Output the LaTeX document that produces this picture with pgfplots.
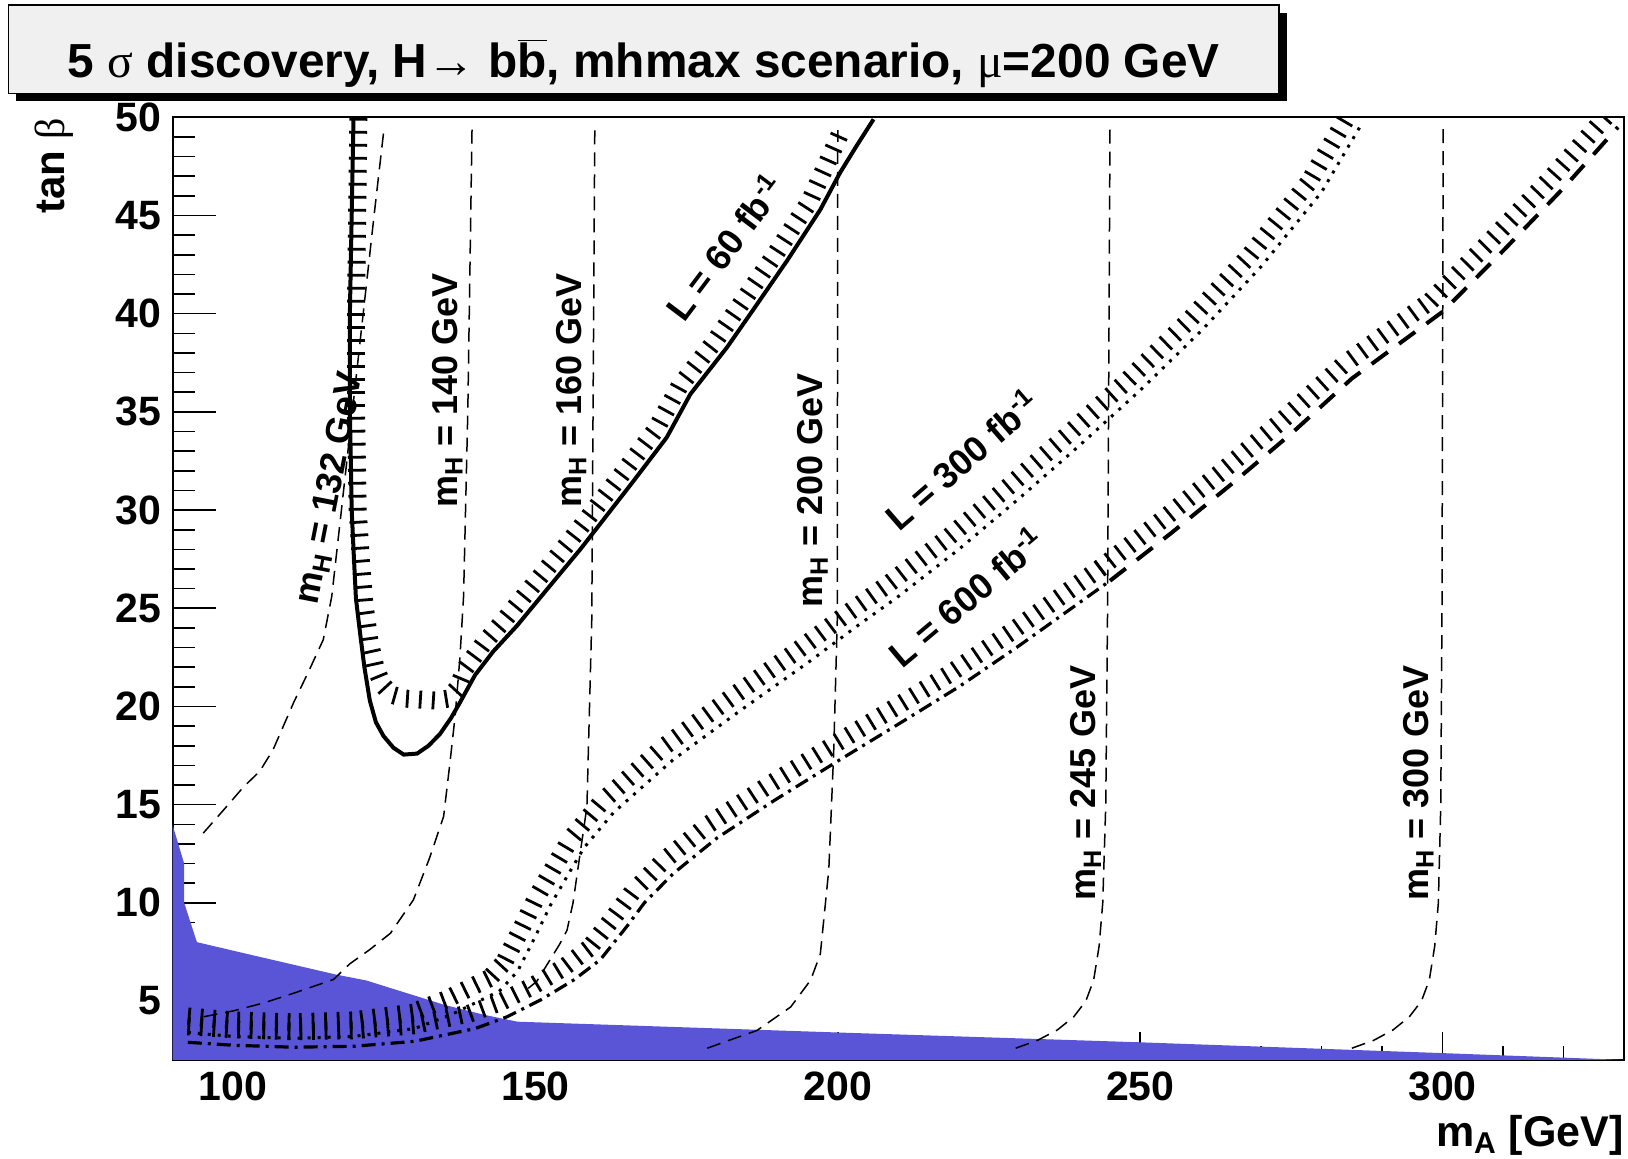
\documentclass[border=0pt]{standalone}
\usepackage{pgfplots}
\pgfplotsset{compat=1.18}
\usetikzlibrary{decorations.markings}
\usepackage{fontspec}
\setmainfont{Liberation Sans}
\newfontfamily\grk{Liberation Serif}
\definecolor{rootblue}{RGB}{90,85,215}
\definecolor{boxgray}{RGB}{240,240,240}
\tikzset{
  hatchC/.style={postaction={decorate, decoration={markings, mark=between positions 0 and 1 step 6.5pt with {\draw[black, solid, line width=1.4pt] (0pt,-4.5pt) -- (0pt,4.5pt);}}}},
  hatchL/.style 2 args={postaction={decorate, decoration={markings, mark=between positions 0 and 1 step 6.3pt with {\draw[black, solid, line width=1.4pt] (0pt,#1) -- (0pt,#2);}}}},
  isoline/.style={black, line width=0.75pt, dash pattern=on 7pt off 4pt},
}
\newcommand{\lab}{\fontsize{18pt}{20pt}\selectfont\bfseries}
\begin{document}
\begin{tikzpicture}
\useasboundingbox (-86.35pt,-49.5pt) rectangle (727.65pt,530pt);
% background axis: y ticks
\begin{axis}[at={(0,0)}, anchor=south west, scale only axis,
  width=725.65pt, height=471.35pt,
  xmin=90, xmax=330, ymin=2, ymax=50,
  axis line style={line width=1pt},
  xtick=\empty, ytick={5,10,...,50}, minor ytick={2,3,...,50},
  ytick pos=left, tick align=inside,
  major tick length=21.75pt, minor tick length=10.9pt,
  tick style={black, line width=0.8pt},
  /pgf/number format/assume math mode=true,
  yticklabel style={font=\fontsize{20.5pt}{24pt}\selectfont\bfseries, inner sep=0pt, xshift=-5.5pt},
]
\end{axis}
% main axis
\begin{axis}[at={(0,0)}, anchor=south west, scale only axis,
  width=725.65pt, height=471.35pt,
  xmin=90, xmax=330, ymin=2, ymax=50,
  axis line style={line width=1pt},
  ytick=\empty, xtick={100,150,...,300}, minor xtick={90,100,...,330},
  xtick pos=bottom, tick align=inside,
  major tick length=14pt, minor tick length=7pt,
  tick style={black, line width=0.8pt},
  /pgf/number format/assume math mode=true,
  xticklabel style={font=\fontsize{20.5pt}{24pt}\selectfont\bfseries, inner sep=0pt, yshift=-5.85pt},
  clip mode=individual,
]
% excluded region
\addplot[fill=rootblue, draw=none] coordinates {
 (90,2) (90,13.95) (91.9,12.0) (91.9,10.0) (94.0,8.0) (103,7.35) (117,6.35) (122,6.05)
 (135,4.8) (141.5,4.3) (147,3.95) (200,3.4) (250,2.9) (300,2.35) (326,2.05) (330,2.0)} -- cycle;
% m_H isolines
\addplot[isoline] coordinates {(95.05,13.55) (98.9,14.9) (101.7,15.9) (104.4,16.7) (106.6,17.8) (110,20.2) (112.5,21.8) (114.9,23.4) (116.3,25.6) (117.9,30) (119.7,35) (121.5,40) (123.3,45) (124.9,49.3)};
\addplot[isoline] coordinates {(95.1,4.2) (100,4.5) (105,4.9) (110,5.4) (116.6,6.1) (119.3,6.9) (122.5,7.6) (126,8.45) (129.8,10.15) (132.5,12.3) (134.8,14.4) (135.8,17) (136.7,19.5) (137.5,22.5) (138.1,25.6) (138.8,35) (139.5,49.4)};
\addplot[isoline] coordinates {(148.8,5.65) (150.2,6.0) (152.4,7.1) (154,7.9) (155.2,8.6) (156.2,10.0) (156.9,11.5) (158.5,14.9) (159.3,24.4) (159.8,49.35)};
\addplot[isoline] coordinates {(178.4,2.6) (182,3.0) (186.6,3.5) (192.2,4.7) (195.5,6.07) (197.1,7.4) (198.5,11.7) (199.3,17.6) (199.9,24.4) (199.98,49.35)};
\addplot[isoline] coordinates {(229.4,2.6) (233,3.0) (236.3,3.53) (239,4.2) (241,5.0) (242.3,6.07) (243.2,7.8) (243.8,10) (244.3,15) (244.6,25) (245.0,49.4)};
\addplot[isoline] coordinates {(285,2.6) (288.6,3.0) (291.8,3.53) (294.5,4.2) (296.5,5.0) (297.8,6.07) (298.7,7.8) (299.3,10) (299.7,15) (299.9,25) (300.1,49.4)};
% L = 60 fb-1
\addplot[black, line width=2pt] coordinates {
 (119.9,49.9) (119.6,45) (119.3,40) (119.3,35) (119.6,30) (119.9,28) (120.3,25.5) (121.0,23.7) (121.7,22.0) (122.6,20.3)
 (123.6,19.2) (124.85,18.5) (126.5,17.9) (128.2,17.55) (130.4,17.6) (132.3,18.0) (134.2,18.6) (136,19.4) (137.5,20.2)
 (140,21.6) (143,22.8) (146.9,24.1) (152,26.0) (157.4,28.0) (160.7,29.3) (166,31.4) (171.7,33.7) (175.6,35.9)
 (181.7,38.3) (186,40.2) (191.6,42.7) (197.1,45.3) (200.4,47.2) (203,48.5) (205.9,49.9)};
\addplot[draw=none, hatchC] coordinates {
 (120.7,49.9) (120.5,45) (120.3,40) (120.3,35) (120.6,30) (121.1,27.5) (121.7,25.2) (122.5,23.4) (123.5,22.0) (124.7,21.1)
 (126.2,20.6) (128.5,20.4) (131,20.35) (133.5,20.3) (135.5,20.4) (137,20.9) (138.5,22.0) (141.4,23.2) (145.1,24.5)
 (150.2,26.4) (155.6,28.4) (158.9,29.7) (164.2,31.8) (169.9,34.1) (173.8,36.3) (179.9,38.7) (184.2,40.6)
 (189.8,43.1) (195.3,45.7) (198.4,47.8) (201,49.6)};
% L = 300 fb-1
\addplot[black, line width=1.5pt, dash pattern=on 1.5pt off 3.5pt, hatchL={3.5pt}{12.5pt}] coordinates {
 (92.5,3.4) (100,3.2) (110,3.1) (120,3.2) (130,3.6) (136,4.3) (140,4.9) (144,5.5) (147,6.5) (149.5,8.0)
 (152.5,9.9) (155.5,11.5) (158,12.8) (162.9,14.6) (172.8,17.3) (183.9,19.8) (194.9,22.2) (203.2,24.1)
 (210,25.6) (220,28.0) (230,30.6) (240,33.3) (250,36.1) (260,39.1) (270,42.4) (280,46.2) (286.5,49.6)};
% L = 600 fb-1
\addplot[black, line width=1.6pt, dash pattern=on 7pt off 3pt on 1.5pt off 3pt, hatchL={3.5pt}{12.5pt}] coordinates {
 (92.5,2.9) (100,2.75) (110,2.65) (120,2.7) (130,2.95) (140,3.6) (145.3,4.2) (150.8,5.05) (156.3,6.07)
 (160.7,7.1) (165.1,8.8) (168,10.0) (172.8,11.5) (180,13.3) (189.4,15.2) (200.4,17.3) (210,19.1) (220,21.0)
 (230,23.1) (240,25.3) (245,26.4)};
\addplot[black, line width=2pt, dash pattern=on 10pt off 7pt, hatchL={3.5pt}{12.5pt}] coordinates {
 (245,26.4) (255,28.8) (265,31.3) (275,33.9) (285,36.7) (300,40.1) (310,43.2) (320,46.4) (329,49.5)};
% labels
\node[rotate=79, font=\lab] at (axis cs:116.1,31.1) {m\textsubscript{H} = 132 GeV};
\node[rotate=90, font=\lab] at (axis cs:135.4,36.1) {m\textsubscript{H} = 140 GeV};
\node[rotate=90, font=\lab] at (axis cs:155.9,36.1) {m\textsubscript{H} = 160 GeV};
\node[rotate=90, font=\lab] at (axis cs:195.8,31.0) {m\textsubscript{H} = 200 GeV};
\node[rotate=90, font=\lab] at (axis cs:241.0,16.1) {m\textsubscript{H} = 245 GeV};
\node[rotate=90, font=\lab] at (axis cs:296.0,16.1) {m\textsubscript{H} = 300 GeV};
\node[rotate=53, font=\lab] at (axis cs:181.2,43.4) {L = 60 fb\textsuperscript{-1}};
\node[rotate=41, font=\lab] at (axis cs:220.4,32.6) {L = 300 fb\textsuperscript{-1}};
\node[rotate=40, font=\lab] at (axis cs:221.2,25.6) {L = 600 fb\textsuperscript{-1}};
\end{axis}
% axis titles
\node[anchor=base east, inner sep=0pt, font=\fontsize{21.5pt}{24pt}\selectfont\bfseries] at (725.65pt,-43.35pt) {m\textsubscript{A} [GeV]};
\node[rotate=90, anchor=base east, inner sep=0pt, font=\fontsize{21pt}{24pt}\selectfont\bfseries] at (-53.85pt,471.35pt) {tan {\grk\mdseries β}};
% title box
\fill[black] (-78.2pt,479.3pt) rectangle (557.15pt,523.4pt);
\filldraw[fill=boxgray, draw=black, line width=0.75pt] (-82.2pt,483.3pt) rectangle (553.15pt,527.4pt);
\node[anchor=base, inner sep=0pt, font=\fontsize{23.9pt}{26pt}\selectfont\bfseries] at (235.5pt,491pt)
 {5 {\grk\mdseries σ} discovery, H{\grk\mdseries →} b$\overline{\mbox{b}}$, mhmax scenario, {\grk\mdseries μ}=200 GeV};
\end{tikzpicture}
\end{document}
